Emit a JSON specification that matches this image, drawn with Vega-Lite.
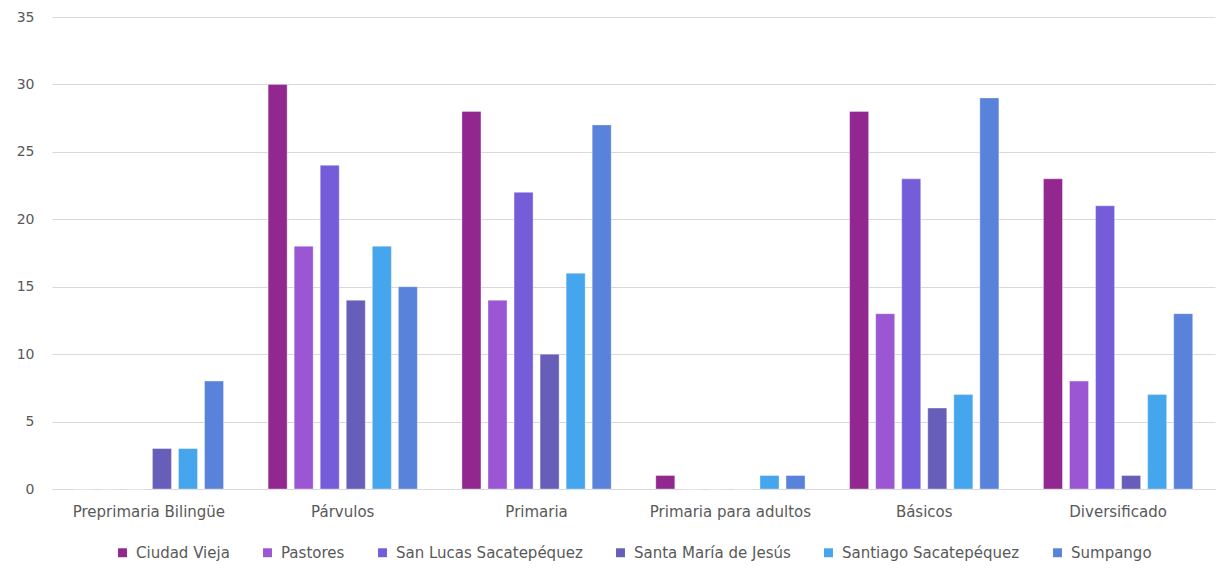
{
  "$schema": "https://vega.github.io/schema/vega-lite/v6.json",
  "width": 1224,
  "height": 583,
  "autosize": {"type": "fit", "contains": "padding"},
  "padding": {"left": 16, "top": 10, "right": 9, "bottom": 22},
  "background": "white",
  "config": {
    "font": "DejaVu Sans",
    "view": {"stroke": null},
    "axis": {"labelFont": "DejaVu Sans", "labelColor": "#595959", "labelFontSize": 14},
    "legend": {"layout": {"bottom": {"anchor": "middle"}}}
  },
  "data": {
    "values": [
      {"nivel": "Preprimaria Bilingüe", "municipio": "Ciudad Vieja", "valor": 0},
      {"nivel": "Preprimaria Bilingüe", "municipio": "Pastores", "valor": 0},
      {"nivel": "Preprimaria Bilingüe", "municipio": "San Lucas Sacatepéquez", "valor": 0},
      {"nivel": "Preprimaria Bilingüe", "municipio": "Santa María de Jesús", "valor": 3},
      {"nivel": "Preprimaria Bilingüe", "municipio": "Santiago Sacatepéquez", "valor": 3},
      {"nivel": "Preprimaria Bilingüe", "municipio": "Sumpango", "valor": 8},
      {"nivel": "Párvulos", "municipio": "Ciudad Vieja", "valor": 30},
      {"nivel": "Párvulos", "municipio": "Pastores", "valor": 18},
      {"nivel": "Párvulos", "municipio": "San Lucas Sacatepéquez", "valor": 24},
      {"nivel": "Párvulos", "municipio": "Santa María de Jesús", "valor": 14},
      {"nivel": "Párvulos", "municipio": "Santiago Sacatepéquez", "valor": 18},
      {"nivel": "Párvulos", "municipio": "Sumpango", "valor": 15},
      {"nivel": "Primaria", "municipio": "Ciudad Vieja", "valor": 28},
      {"nivel": "Primaria", "municipio": "Pastores", "valor": 14},
      {"nivel": "Primaria", "municipio": "San Lucas Sacatepéquez", "valor": 22},
      {"nivel": "Primaria", "municipio": "Santa María de Jesús", "valor": 10},
      {"nivel": "Primaria", "municipio": "Santiago Sacatepéquez", "valor": 16},
      {"nivel": "Primaria", "municipio": "Sumpango", "valor": 27},
      {"nivel": "Primaria para adultos", "municipio": "Ciudad Vieja", "valor": 1},
      {"nivel": "Primaria para adultos", "municipio": "Pastores", "valor": 0},
      {"nivel": "Primaria para adultos", "municipio": "San Lucas Sacatepéquez", "valor": 0},
      {"nivel": "Primaria para adultos", "municipio": "Santa María de Jesús", "valor": 0},
      {"nivel": "Primaria para adultos", "municipio": "Santiago Sacatepéquez", "valor": 1},
      {"nivel": "Primaria para adultos", "municipio": "Sumpango", "valor": 1},
      {"nivel": "Básicos", "municipio": "Ciudad Vieja", "valor": 28},
      {"nivel": "Básicos", "municipio": "Pastores", "valor": 13},
      {"nivel": "Básicos", "municipio": "San Lucas Sacatepéquez", "valor": 23},
      {"nivel": "Básicos", "municipio": "Santa María de Jesús", "valor": 6},
      {"nivel": "Básicos", "municipio": "Santiago Sacatepéquez", "valor": 7},
      {"nivel": "Básicos", "municipio": "Sumpango", "valor": 29},
      {"nivel": "Diversificado", "municipio": "Ciudad Vieja", "valor": 23},
      {"nivel": "Diversificado", "municipio": "Pastores", "valor": 8},
      {"nivel": "Diversificado", "municipio": "San Lucas Sacatepéquez", "valor": 21},
      {"nivel": "Diversificado", "municipio": "Santa María de Jesús", "valor": 1},
      {"nivel": "Diversificado", "municipio": "Santiago Sacatepéquez", "valor": 7},
      {"nivel": "Diversificado", "municipio": "Sumpango", "valor": 13}
    ]
  },
  "mark": {"type": "bar", "stroke": "white", "strokeOpacity": 0.35, "strokeWidth": 1},
  "encoding": {
    "x": {
      "field": "nivel",
      "type": "nominal",
      "sort": null,
      "scale": {"paddingInner": 0.23, "paddingOuter": 0.115},
      "axis": {
        "title": null,
        "labelAngle": 0,
        "ticks": false,
        "domainColor": "#d9d9d9",
        "labelFontSize": 15,
        "labelPadding": 15
      }
    },
    "xOffset": {
      "field": "municipio",
      "type": "nominal",
      "sort": null,
      "scale": {"paddingInner": 0.27, "paddingOuter": 0}
    },
    "y": {
      "field": "valor",
      "type": "quantitative",
      "scale": {"domain": [0, 35]},
      "axis": {
        "title": null,
        "values": [0, 5, 10, 15, 20, 25, 30, 35],
        "ticks": false,
        "domain": false,
        "gridColor": "#d9d9d9",
        "labelPadding": 18
      }
    },
    "color": {
      "field": "municipio",
      "type": "nominal",
      "sort": null,
      "scale": {
        "domain": ["Ciudad Vieja", "Pastores", "San Lucas Sacatepéquez", "Santa María de Jesús", "Santiago Sacatepéquez", "Sumpango"],
        "range": ["#92278F", "#9B57D3", "#755DD9", "#665EB8", "#45A5ED", "#5982DB"]
      },
      "legend": {
        "title": null,
        "orient": "bottom",
        "direction": "horizontal",
        "symbolType": "square",
        "symbolSize": 80,
        "symbolStrokeWidth": 0,
        "labelFont": "DejaVu Sans",
        "labelFontSize": 15,
        "labelLimit": 400,
        "labelOffset": 6,
        "labelColor": "#595959",
        "columnPadding": 30,
        "offset": 26
      }
    }
  }
}
